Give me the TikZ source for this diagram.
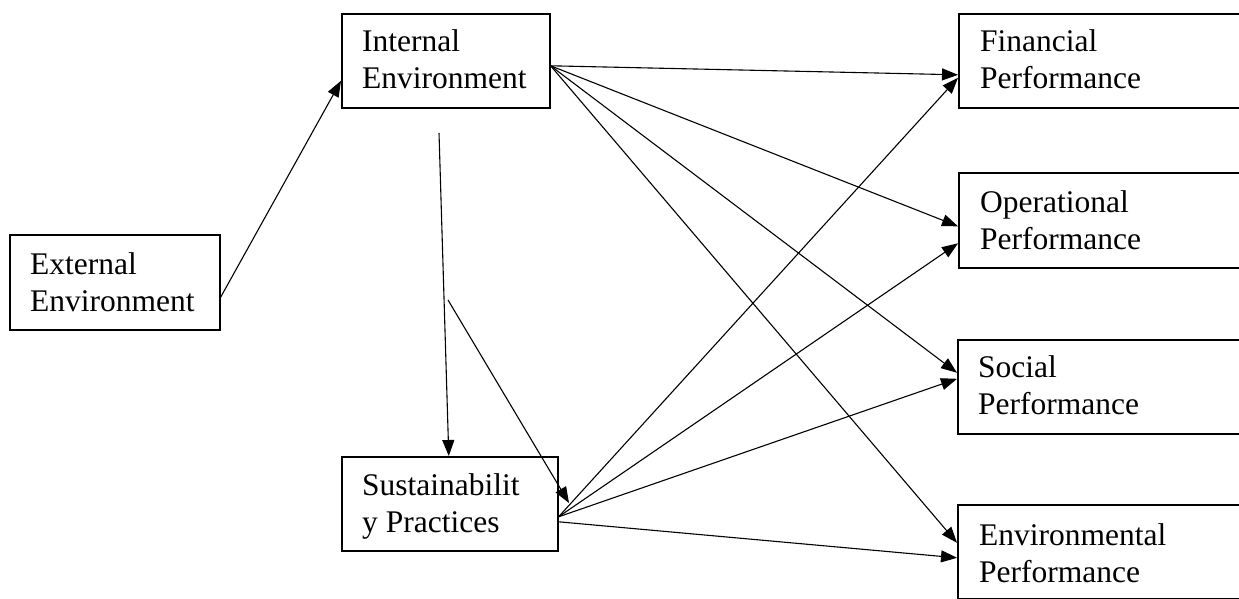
\documentclass[tikz,border=0pt]{standalone}
\usepackage{fontspec}
\setmainfont{Liberation Serif}
\usetikzlibrary{arrows.meta}
\begin{document}
\begin{tikzpicture}[x=1pt,y=-1pt,
  box/.style={draw, line width=1.6pt, rectangle, anchor=north west, inner sep=0pt},
  lbl/.style={anchor=base west, inner sep=0pt, font=\fontsize{31.5}{37}\selectfont},
  conn/.style={line width=1.1pt, -{Triangle[length=16pt,width=12pt]}}]
\useasboundingbox (0,0) rectangle (1239,599);
\clip (0,0) rectangle (1239,599);
\fill[white] (0,0) rectangle (1239,599);

% boxes
\node[box, minimum width=210pt, minimum height=95pt] (ext) at (9,234) {};
\node[box, minimum width=208pt, minimum height=94pt] (int) at (341,13) {};
\node[box, minimum width=216pt, minimum height=94pt] (sus) at (341,456) {};
\node[box, minimum width=300pt, minimum height=94pt] (fin) at (958,13) {};
\node[box, minimum width=300pt, minimum height=95pt] (op)  at (958,172) {};
\node[box, minimum width=300pt, minimum height=94pt] (soc) at (957,339) {};
\node[box, minimum width=300pt, minimum height=94pt] (env) at (957,504) {};

% labels
\node[lbl] (ext1) at ([shift={(21pt,-40pt)}]ext.north west) {External};
\node[lbl] (ext2) at ([shift={(21pt,-77pt)}]ext.north west) {Environment};
\node[lbl] (int1) at ([shift={(21pt,-39pt)}]int.north west) {Internal};
\node[lbl] (int2) at ([shift={(21pt,-76pt)}]int.north west) {Environment};
\node[lbl] (sus1) at ([shift={(21pt,-39pt)}]sus.north west) {Sustainabilit};
\node[lbl] (sus2) at ([shift={(21pt,-76pt)}]sus.north west) {y Practices};
\node[lbl] (fin1) at ([shift={(22pt,-39pt)}]fin.north west) {Financial};
\node[lbl] (fin2) at ([shift={(22pt,-76pt)}]fin.north west) {Performance};
\node[lbl] (op1) at ([shift={(22pt,-40pt)}]op.north west) {Operational};
\node[lbl] (op2) at ([shift={(22pt,-77pt)}]op.north west) {Performance};
\node[lbl] (soc1) at ([shift={(21pt,-38pt)}]soc.north west) {Social};
\node[lbl] (soc2) at ([shift={(21pt,-75pt)}]soc.north west) {Performance};
\node[lbl] (env1) at ([shift={(22pt,-41pt)}]env.north west) {Environmental};
\node[lbl] (env2) at ([shift={(22pt,-78pt)}]env.north west) {Performance};

% free ends
\coordinate (v1) at (439,133);
\coordinate (d1) at (448,300);
\coordinate (d2) at (569,503);

% connectors
\draw[conn] ([yshift=-15pt]ext.east) -- ([yshift=-20pt]int.west);
\draw[conn] (v1) -- ([xshift=-1pt]sus.north);
\draw[conn] (d1) -- (d2);

\draw[conn] ([yshift=-5pt]int.east) -- ([yshift=-14pt]fin.west);
\draw[conn] ([yshift=-5pt]int.east) -- ([yshift=-6pt]op.west);
\draw[conn] ([yshift=-5pt]int.east) -- ([yshift=14pt]soc.west);
\draw[conn] ([yshift=-5pt]int.east) -- ([yshift=9pt]env.west);

\draw[conn] ([yshift=-13pt]sus.east) -- ([yshift=-17pt]fin.west);
\draw[conn] ([yshift=-13pt]sus.east) -- ([yshift=-23pt]op.west);
\draw[conn] ([yshift=-13pt]sus.east) -- ([yshift=8pt]soc.west);
\draw[conn] ([yshift=-18pt]sus.east) -- ([yshift=-6pt]env.west);
\end{tikzpicture}
\end{document}
